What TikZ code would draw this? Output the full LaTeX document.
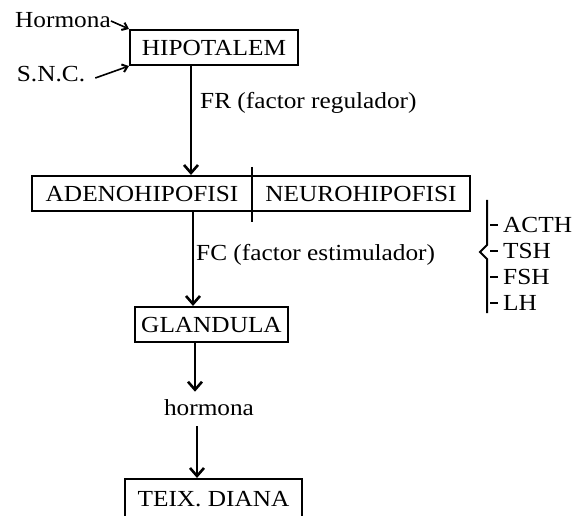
\documentclass[tikz,border=0pt]{standalone}
\usepackage{fontspec}
\setmainfont{Liberation Serif}[FakeStretch=1.1]
\usetikzlibrary{arrows.meta,calc}
\begin{document}
\begin{tikzpicture}[x=1pt,y=-1pt,
  every node/.style={font=\fontsize{23}{27}\selectfont, inner sep=0pt},
  boxn/.style={draw, line width=2.1pt, minimum height=35pt},
  lbl/.style={anchor=west},
  ln/.style={line width=2pt},
  arr/.style={line width=2pt, -{Straight Barb[length=8pt,width=14pt,line width=2.6pt]}},
  sarr/.style={line width=1.6pt, -{Straight Barb[length=5pt,width=8pt,line width=2pt]}}]
\useasboundingbox (0,0) rectangle (584,516);
\clip (0,0) rectangle (584,516);
% boxes
\node[boxn, minimum width=168pt] (hip) at (214,47.5) {HIPOTALEM};
\node[boxn, minimum width=220pt] (adeno) at (142,193.5) {ADENOHIPOFISI};
\node[boxn, minimum width=218pt] (neuro) at (361,193.5) {NEUROHIPOFISI};
\node[boxn, minimum width=153pt] (gland) at (211.5,324.5) {GLANDULA};
\node[boxn, minimum width=177pt, minimum height=44pt, text depth=4pt] (teix) at (213.5,501) {TEIX. DIANA};
% divider between adeno and neuro
\coordinate (dtop) at (252,167);
\coordinate (dbot) at (252,222);
\draw[ln] (dtop) -- (dbot);
% side inputs
\node (horm) at (63,20) {Hormona};
\node (snc) at (51,74) {S.N.C.};
\draw[sarr] (horm.east) ++(0,1) -- (hip.north west);
\draw[sarr] ($(snc.east)+(10,4)$) -- (hip.south west);
% main arrows
\coordinate (c1) at (191,0);
\coordinate (c2) at (193,0);
\coordinate (c3) at (195,0);
\coordinate (c4) at (197,0);
\draw[arr] (c1 |- hip.south) -- (c1 |- adeno.north);
\node[lbl] (fr) at (200,103) {FR (factor regulador)};
\draw[arr] (c2 |- adeno.south) -- (c2 |- gland.north);
\node[lbl] (fc) at (196,255) {FC (factor estimulador)};
\node (hormona) at (209,408) {hormona};
\draw[arr] (c3 |- gland.south) -- ($(c3 |- hormona.north)+(0,-8)$);
\draw[arr] ($(c4 |- hormona.south)+(0,10)$) -- (c4 |- teix.north);
% brace with hormones
\coordinate (bt) at (487,200);
\coordinate (bb) at (487,313);
\coordinate (bp) at (480,252);
\draw[ln, line join=miter] (bt) -- (487,245) -- (bp) -- (487,259) -- (bb);
\node[lbl] (acth) at (503,225) {ACTH};
\node[lbl] (tsh) at (503,251) {TSH};
\node[lbl] (fsh) at (503,277) {FSH};
\node[lbl] (lh) at (503,303) {LH};
\foreach \n in {acth,tsh,fsh,lh}{
  \draw[line width=1.6pt] ($(\n.west)+(-13,0)$) -- ($(\n.west)+(-5,0)$);
}
\end{tikzpicture}
\end{document}
